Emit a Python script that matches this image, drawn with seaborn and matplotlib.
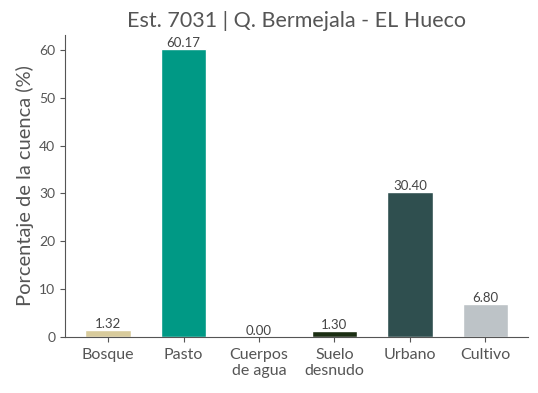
import matplotlib
matplotlib.use("Agg")
import matplotlib.pyplot as plt
import seaborn as sns
import pandas as pd

categories = ["Bosque", "Pasto", "Cuerpos\nde agua", "Suelo\ndesnudo", "Urbano", "Cultivo"]
values = [1.32, 60.17, 0.00, 1.30, 30.40, 6.80]
colors = ["#d8cb9c", "#009985", "#3a7ca5", "#1b2e12", "#2f4f4f", "#bdc3c7"]
title = "Est. 7031 | Q. Bermejala - EL Hueco"
ylabel = "Porcentaje de la cuenca (%)"

sns.set_style("ticks")
plt.rcParams["font.family"] = ["Lato", "DejaVu Sans"]
txt = "#555555"
plt.rcParams["text.color"] = txt
plt.rcParams["axes.labelcolor"] = txt
plt.rcParams["xtick.color"] = txt
plt.rcParams["ytick.color"] = txt
plt.rcParams["axes.edgecolor"] = "#555555"

df = pd.DataFrame({"cat": categories, "val": values})
fig, ax = plt.subplots(figsize=(5.38, 3.93), dpi=100)
sns.barplot(data=df, x="cat", y="val", hue="cat", palette=colors, width=0.6,
            legend=False, ax=ax, saturation=1)
for c in ax.containers:
    ax.bar_label(c, fmt="%.2f", fontsize=9.5, padding=0, color="#444444")
ax.set_ylim(0, max(values) * 1.05)
ax.set_xlim(-0.57, 5.57)
ax.set_xlabel("")
ax.set_ylabel(ylabel, fontsize=14.5)
ax.set_title(title, fontsize=15.5, color="#555555")
ax.tick_params(axis="x", labelsize=11.5, pad=4.5)
ax.tick_params(axis="y", labelsize=10)
sns.despine(ax=ax)
fig.subplots_adjust(left=0.121, right=0.982, top=0.911, bottom=0.143)
fig.savefig("out.png", dpi=100)
